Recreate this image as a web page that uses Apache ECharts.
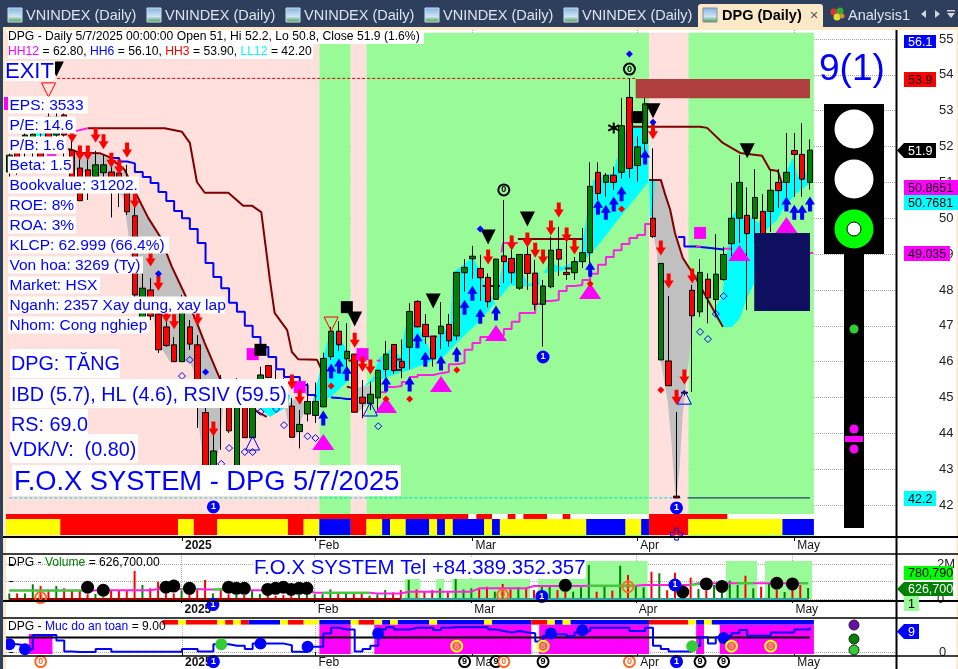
<!DOCTYPE html>
<html><head><meta charset="utf-8">
<style>html,body{margin:0;padding:0;background:#fff;overflow:hidden}#c{width:958px;height:669px}</style>
<script src="https://cdn.jsdelivr.net/npm/echarts@6/dist/echarts.min.js"></script>
</head><body><div id="c"></div>
<script>
// ---------- DATA ----------
const tickBars=[22,39,59,80,100];
const tickLabels=['2025','Feb','Mar','Apr','May'];
const priceTicks=[42,43,44,45,46,47,48,49,50,51,52,53,54,55];
// open, close, low, high
const ohlc=[[51.29,51.76,50.93,51.9],[51.9,51.49,51.21,52.18],[51.85,52.32,51.35,52.6],[51.9,52.35,51.62,52.74],[52.18,51.68,51.49,52.55],[52.82,52.24,51.9,53.08],[52.32,52.82,51.9,52.96],[52.88,52.32,51.62,53.08],[51.9,51.07,50.79,52.46],[51.4,50.49,50.48,51.76],
[51.35,51.07,50.51,51.76],[51.16,51.49,50.84,51.88],[51.27,51.49,50.79,51.76],[51.29,51.01,50.02,51.49],[51.26,50.9,50.31,51.35],[50.88,50.18,50.09,51.49],[50.07,47.86,47.8,50.37],[47.22,48.05,47.11,48.47],[48,47.27,47.16,48.33],[47.33,46.33,46.24,47.58],
[46.97,46.45,46.41,47.16],[46.47,46,45.99,46.69],[46,47.72,45.99,47.86],[46.97,46.49,46.33,47.16],[46.47,45.35,44.15,46.74],[44.58,42.98,42.9,44.93],[42.7,43.51,42.6,44.23],[45.35,44.79,43.54,45.63],[45.07,44.07,44.01,45.35],[42.98,45.35,42.9,45.54],
[45.15,43.88,43.87,45.35],[43.88,45.21,43.87,45.4],[44.93,45.63,44.71,45.86],[45.89,45.56,45.54,45.91],[45.35,44.93,44.88,45.77],[45.35,45.07,44.93,45.54],[44.76,43.89,43.88,44.99],[44.05,44.25,43.58,44.65],[44.54,44.89,44.33,45.4],[44.5,44.89,44.29,45.42],
[44.74,46.09,44.73,46.25],[46.14,46.85,46.05,46.97],[46.85,46.47,46.3,47.13],[46.08,46.29,45.58,47.07],[46.21,44.59,44.58,46.22],[45.01,44.84,44.42,45.49],[44.83,45.09,44.65,45.44],[44.99,45.76,44.65,45.77],[45.78,46.21,45.58,46.58],[46.48,45.75,45.66,46.49],
[46.01,45.83,45.54,46.62],[46.4,47.4,45.79,47.63],[47.68,46.97,46.96,47.72],[47.04,46.7,46.49,47.32],[46.71,46.08,45.86,46.72],[46.78,46.99,46.35,47.66],[47.04,46.58,46.42,47.33],[46.72,48.49,46.6,48.5],[48.48,48.63,47.95,48.86],[48.87,48.94,48.31,49.23],
[48.6,48.34,47.69,48.98],[48.35,47.67,47.51,48.46],[47.74,48.86,47.72,48.87],[48.95,48.79,48.19,50.51],[48.88,48.48,48.19,49.51],[48.05,48.99,48,49],[48.99,48.46,48,49.39],[48.47,47.6,47.44,48.84],[47.6,48.11,46.42,48.28],[48.09,49.11,48.05,49.49],
[49.13,48.86,48.39,49.76],[48.49,48.43,48.28,49.72],[48.48,48.79,48.28,48.92],[48.79,49.04,48.61,49.73],[49.04,50.89,48.75,51.56],[51.28,50.69,50.51,51.56],[51,51.2,50.6,51.26],[51.2,51,50.79,51.44],[51.28,52.58,51.11,53.35],[53.37,51.39,51.12,53.9],
[51.47,51.99,51.02,52.28],[52.09,53.19,51.82,53.35],[50,49.49,49.45,51.95],[46.05,48.74,46.04,48.75],[46.02,45.33,45.32,47.83],[42.25,42.2,42.2,44.6],[45.15,45.12,45.05,45.2],[47.99,47.28,45.16,48.14],[47.39,48.49,47.25,48.86],[48.3,47.78,47.07,48.46],
[47.73,48.44,47.27,49.56],[48.29,48.99,48.26,49.2],[49.29,50,48.95,50.98],[50,51,49.31,51.76],[50.08,49.57,47.44,50.86],[50,50.58,49.31,51.37],[50.19,49.29,48.39,50.67],[50.19,50.78,49.62,51.35],[51,50.77,50.29,51.37],[51,51.28,50.32,52.38],
[51.89,51.78,50.6,52.38],[51.78,51.09,50.6,52.65],[51,51.9,50.8,52.2]];
const volumes=[.32,.32,.32,.84,.74,.51,.74,.61,.51,.51,.27,.29,.1,.51,.51,.48,1.6,.8,.61,.99,.32,.32,.48,.29,.51,1.09,.32,.61,.27,.23,.23,.51,.29,.19,.19,.23,.19,.23,.27,.27,.27,.55,.32,.38,.38,.38,.19,.27,.51,.38,.51,1.09,.55,.42,.51,.61,.38,1.14,.55,.61,.61,.7,.42,.86,.55,.67,.61,.51,.8,.7,.51,.42,.42,.67,1.94,.42,.8,.48,1.9,1.37,.74,.67,1.56,1.47,.5,1.5,.57,1.22,.57,.48,.8,.36,1.05,.8,1.33,.61,.7,.9,.51,.4,.55,.8,.63];
const safety=[3.4,2.99,1.21,7.36,7.36,7.36,5.04,.26,0,0,0,1.35,1.35,.12,.12,.12,.12,.12,.12,.12,.12,.12,1.35,1.35,.26,.26,3.4,3.4,2.72,2.72,1.35,3.67,3.67,3.67,3.67,2.99,.12,0,2.31,2.31,8.04,10.5,9.82,9.82,.26,1.35,2.72,9.82,10.78,9.82,9.82,10.5,10.5,10.5,9.55,10.5,10.78,10.78,10.78,10.78,10.78,9.82,9.14,8.45,9.14,8.45,8.18,4.63,7.09,7.77,7.77,6.81,8.45,9.14,10.5,10.5,10.5,10.5,10.5,9.14,9.14,10.5,2.72,1.35,.26,.26,.26,2.72,6.4,3.67,6.4,7.09,8.18,9.55,7.09,7.09,7.09,8.45,8.45,8.45,9.82,9.82,10.78];
// indicator lines
const brownUpper=[[10,52.51],[19.8,52.51],[22,52.41],[23,52.1],[23.9,51.01],[24.9,50.71],[27.9,50.71],[29.8,50.35],[30.9,50.35],[32.1,50.17],[33.2,48.28],[33.8,47.36],[35.4,46.88],[36,46.27],[36.8,46.07],[39.2,46.05],[39.8,45.77]];
const brownLower=[[7.5,51.93],[9,51.83],[11.6,51.81],[12.6,51.72],[14.7,51.35],[16.4,50.57],[17.7,50.01],[19.2,49.49],[20.7,48.65],[22.4,47.86],[23.9,47.08],[24.9,46.52],[26.8,45.54],[31.6,44.6],[32.8,44.46]];
const brownPlunge=[[81.5,51.07],[83,51.07],[83.5,50.7],[84.2,50.23],[84.8,49.59],[85.8,48.89],[87.6,48.28],[89,47.72],[90.9,46.97]];
const brownTop=[[79.3,52.55],[88,52.55],[88.9,52.52],[90.9,52.1],[93.1,51.82],[95.9,51.74],[96.9,51.35],[97.9,51.32],[98.4,50.98]];
const brownBits=[[[43.2,46.03],[44.4,46.03]],[[43,45.3],[43.6,45.27]],[[48.7,46.06],[50,46.06]],[[48.9,45.77],[50,45.77]],[[54,46.7],[54.5,46.7]],[[60.3,48.11],[62.5,48.11]],[[64.8,49.42],[73,49.42]],[[70.8,48.6],[72,48.6]]];
const blueFall=[[13,51.68],[14,51.58],[15,51.53],[16,51.29],[17,51.15],[18,50.98],[19,50.73],[20,50.48],[21,50.2],[22,50],[23,49.7],[24,49.31],[25,48.75],[26,48.36],[27,48.05],[28,47.64],[29,47.39],[30,47],[31,46.69],[32,46.41],[33,46.13],[34,45.79],[35,45.57],[36,45.57],[37,45.35],[38,45.07],[39,45.01]];
const blueFlat=[[41,45],[42,44.99],[43,44.96],[44,44.96]];
const blueLate=[[85.2,49.48],[86,49.21],[87.4,49.18],[89,49.13],[91,49.13]];
const magentaRise=[[47,45.15],[48,45.29],[49,45.32],[50,45.43],[51,45.57],[52,45.63],[53,45.63],[54,45.68],[55,45.71],[56,45.93],[57,45.96],[58,46.33],[59,46.52],[60,46.69],[61,46.72],[62,46.74],[63,46.91],[64,47.11],[65,47.36],[66,47.36],[67,47.61],[68,47.69],[69,47.72],[70,47.97],[71,48.11],[72,48.14],[73,48.28],[74,48.45],[75,48.7],[76,48.92],[77,49.11],[78,49.28],[79,49.45],[80,49.53],[81,49.84],[82,49.84]];
const magentaBits=[[[8.4,52.43],[10,52.51]],[[39.6,45],[40.5,45]],[[44.4,46.03],[45.5,46.03]],[[46.8,46.03],[47.3,46.03]],[[53.3,46.7],[54,46.7]],[[62.7,49.05],[62.9,49.31],[64.8,49.31]],[[87.5,49.21],[88.1,49.21]],[[91,49.15],[92,49.15]],[[102,49.03],[102.4,49.03]],[[4.8,51.76],[6,51.76]]];
// filled bands
const grayA=[[7.5,51.93],[9,51.83],[11.6,51.81],[12.6,51.72],[14.7,51.35],[16.4,50.57],[17.7,50.01],[19.2,49.49],[20.7,48.65],[22.4,47.86],[23.9,47.08],[24.9,46.52],[26.8,45.54],[27.2,44.71],[26.8,43.62],[26.2,43.12],[24.7,43.12],[24.5,43.62],[23.9,44.65],[23.9,45.54],[23,45.99],[20.5,45.99],[19.5,46.33],[18.8,46.52],[18.3,47.36],[16,47.72],[15.6,48.56],[15.1,49.67],[14.5,50.59],[11.6,51.12],[8.4,51.35]];
const grayB=[[35.1,44.74],[35.5,44.29],[36,43.9],[36.5,43.9],[37.4,44.51],[37.9,44.74],[36.8,45.04]];
const grayC=[[44.3,45.27],[46.2,45.35],[46.2,44.93],[45,44.71],[44.3,44.57]];
const grayD=[[81.5,51.07],[83,51.07],[83.5,50.7],[84.2,50.23],[84.8,49.59],[85.8,48.89],[87.6,48.28],[87.2,47.36],[86.7,46.33],[85.8,44.57],[85.4,43.06],[85,42.2],[84.8,42.34],[84.4,43.62],[83.9,44.85],[82.9,46.13],[82.5,49.03],[82,49.59]];
const cyanA=[[38.6,44.85],[39.3,45.49],[40.5,46.55],[41.5,46.83],[42.8,46.41],[43.1,45.77],[43,45.43],[40.9,45.01]];
const cyanB=[[45.1,45.29],[46.3,45.54],[47.2,46.13],[47.9,46.19],[48.8,46.41],[49.8,46.13],[50.7,47.25],[51.9,47.08],[53.6,46.33],[55.3,46.97],[56.1,46.69],[56.5,48.47],[59.1,48.92],[60.2,48.36],[62.1,47.52],[61.9,47.64],[59.7,47.08],[58.3,46.8],[57,46.52],[55.3,46.13],[53.2,45.96],[51,45.77],[48.9,45.63],[46.3,45.43]];
const cyanC=[[62.1,47.86],[62.9,48.78],[64.4,48.78],[66.3,48.14],[67.4,48.5],[67.6,48.14],[65.1,48.08],[63.8,48.14],[62.5,47.78]];
const cyanD=[[68,48.47],[68.9,48.75],[70.4,48.64],[72.7,48.84],[73.6,50.15],[74.4,51.07],[76.9,51.26],[77.5,51.71],[78.8,52.66],[80.7,52.52],[81.4,52.18],[81.4,51.01],[77.8,50.03],[74,48.97],[71,48.56],[68.9,48.47]];
const cyanE=[[81.5,51.07],[82.3,51.07],[82,50.1],[81.6,50]];
const cyanF=[[89.9,47.52],[90.8,47.8],[91.4,48.92],[91.9,50.03],[92.7,50.23],[93.5,50.03],[94.7,50.03],[95.4,49.87],[96.6,50.31],[97.5,50.79],[98.5,51.01],[99.8,51.71],[100.5,51.15],[102.4,51.35],[102,50.98],[100.3,50.7],[98.5,50.23],[97.8,49.95],[96,49.59],[95,49.39],[94.9,48.19],[94,47.8],[93.1,47.22],[92.1,46.97],[90.9,46.97],[89.9,47.25]];
const cyanG=[[31.6,44.74],[33.2,44.46],[35.4,44.74],[35.8,45.07],[32,45.3]];
const cyanH=[[3,52.4],[6,52.4],[6,52.3],[3,52.3]];
// signals [bar, price]
const redArrows=[[8,52.32],[9,51.82],[10,51.82],[11,52.32],[12,52.13],[13,51.62],[14,51.43],[15,51.9],[16,50.48],[18,48.86],[19,48.19],[20,47.3],[21,47.11],[24,47.22],[26,44.12],[36,45.43],[37,45.01],[44,46.6],[45,45.93],[46,45.85],[61,48.92],[64,49.31],[66,49.39],[67,49.11],[68,48.92],[69,49.73],[70,50.23],[71,49.53],[72,49.2],[82,52.41],[83,49.17],[84,48.25],[85,45.01],[86,45.57],[87,48.39]];
const blueArrows=[[40,44.43],[41,45.74],[42,45.88],[43,45.68],[48,45.38],[51,45.38],[52,46.58],[53,46.07],[55,45.96],[57,46.21],[58,47.52],[59,47.91],[60,47.27],[62,47.36],[74,48.58],[75,50.31],[76,50.17],[77,50.4],[78,50.68],[81,51.71],[99,50.4],[100,50.17],[101,50.17],[102,50.4]];
const magentaTriangles=[[40,43.76],[48,44.79],[55,45.38],[62,46.8],[74,47.97],[93,49.03],[99,49.81]];
const magentaSquares=[[31,46.21],[37,45.29],[45,46.21],[88,49.59]];
const blackSquares=[[32,46.33],[43,47.52],[80,52.82]];
const blackTriangles=[[6,54.16],[44,47.19],[54,47.69],[61,49.48],[66,49.98],[82,53],[94,51.88]];
const redHollow=[[5,53.58],[41,47.05]];
const blueHollow=[[31,43.73],[46,44.68],[86,45.01]];
const redDots=[[41,45.32],[48,44.96],[51,44.96],[57,45.77],[74,48.17],[78,50.26],[83,45.21]];
const blueDots=[[19,48.45],[25,45.71],[60,49.7],[79,54.58],[82,52.68]];
const blueRings=[[22,45.6],[23,46.05],[27,43.15],[28,43.59],[30,43.48],[31,43.48],[32,44.6],[34,44.68],[35,44.23],[38,43.92],[39,43.87],[47,44.2],[88,46.83],[89,46.63],[90,47.33],[91,47.83]];
const zeroMarks=[[63,50.79],[79,54.16]];
const oneMarks=[[26,41.95],[68,46.13],[85,41.92]];
const starMark=[[77,52.52]];
const crossMark=[[85,41.19]];
const resistanceBox=[79.8,102,53.35,53.88];
const supportBox=[94.9,102,47.41,49.59];
const hh3Line=[[6.1,53.9],[79.8,53.9]];
const ll12Dash=[[0,42.2],[85.6,42.2]];
const ll12Solid=[[86.4,42.2],[102,42.2]];
// background state runs: [from, to, state] (0 pink, 1 green)
const regimeRuns=[[-0.42,39.5,0],[39.5,43.5,1],[43.5,45.5,0],[45.5,81.5,1],[81.5,86.5,0],[86.5,102.5,1]];
// strip runs: end bar and colour index (0 red, 1 yellow, 2 blue, 3 white)
const stripMainEnds=[6.5,21.5,23.5,26.5,35.5,37.5,39.5,43.5,45.5,47.5,48.5,50.5,53.5,54.5,55.5,56.5,60.5,61.5,62.5,73.5,78.5,80.5,81.5,86.5,98.5,102.5];
const stripMainColors=[1,0,1,0,1,0,1,2,0,1,2,1,2,1,2,1,2,1,2,1,2,1,2,0,1,2];
const stripTopEnds=[58.5,59.5,61.5,63.5,64.5,65.5,68.5,70.5,71.5,81.5,91.5,102.5];
const stripTopColors=[0,3,0,3,0,3,0,3,0,3,0,3];
const stripSafeEnds=[21.5,22.5,26.5,27.5,28.5,29.5,30.5,34.5,35.5,37.5,39.5,43.5,44.5,46.5,47.5,48.5,49.5,53.5,54.5,60.5,61.5,66.5,68.5,69.5,70.5,71.5,81.5,86.5,87.5,88.5,89.5,102.5];
const stripSafeColors=[0,1,0,1,0,1,0,2,1,0,1,2,1,0,1,2,1,2,1,2,1,2,0,1,2,1,2,0,1,2,1,2];
// volume pane
const volZones=[[50.5,52.5,1.14],[54.5,55.5,1.14],[56.5,66.5,1.14],[67.5,73.5,1.14],[73.5,81.5,2.17],[91.5,95.5,2.17],[96.5,102.5,2.17]];
const volAverage=[[0,.48],[10,.48],[13,.5],[18,.5],[19,.57],[24,.57],[25,.55],[30,.55],[31,.5],[38,.5],[39,.36],[46,.36],[47,.32],[50,.32],[51,.42],[59,.42],[60,.61],[66,.61],[67,.74],[73,.74],[74,.76],[80,.76],[81,.8],[87,.8],[88,.9],[102,.9]];
const volAverageGreen=[[[0,.48],[10,.48]],[[22,.57],[24,.57]],[[26,.55],[28,.55]],[[40,.36],[46,.36]],[[74,.76],[80,.76]],[[87,.8],[89,.9]],[[93,.9],[95,.9]],[[101,.9],[102,.9]]];
const volBlackDots=[[10,.67],[12,.5],[20,.67],[21,.74],[23,.61],[28,.67],[29,.61],[30,.61],[33,.55],[34,.61],[35,.67],[36,.55],[37,.61],[38,.61],[71,.78],[86,.4],[89,.86],[91,.72],[98,.9],[100,.86]];
const volOrange=[[4,.08],[63,.23],[79,.7]];
const volOnes=[[26,-.32],[68,.15],[85,.8]];
// safety pane
const safeZones=[[2.5,5.5,7.8],[39.5,43.5,11.9],[46.5,66.5,11.9],[67.5,81.5,11.9],[87.5,88.5,11.9],[90.5,102.5,11.9]];
const safeLevel=6.3;
const safeBlueDots=[[0,3.4],[2,1.21],[32,3.67],[38,2.31],[47,8.04],[69,8.04],[73,9.41],[91,6.13]];
const safeGreenDots=[[27,3.4],[87,2.58]];
const safeEights=[[57,2.58],[68,2.58],[92,2.58],[97,2.58]];
const safeNines=[[58,-4.1],[62,-4.1],[68,-4.1],[88,-4.1],[91,-4.1]];
const safeZeros=[[4,-4.1],[63,-4.1],[79,-4.1]];
const safeOnes=[[26,-4.1],[85,-4.1]];

// ---------- BUILD ----------
const F='"Liberation Sans", Arial, sans-serif';
const XMIN=-0.42,XMAX=112.96;
const PAL=['#ff0000','#ffff00','#0000ff','#ffffff','#ffe0dd','#98fb98','#af3f3f','#0f0f5f','#ff00ff'];
const rects=(g,data,z)=>({type:'custom',xAxisIndex:g,yAxisIndex:g,z,silent:true,data,encode:{x:[0,1],y:[2,3]},
  renderItem(p,api){const a=api.coord([api.value(0),api.value(2)]),b=api.coord([api.value(1),api.value(3)]);
    return {type:'rect',shape:{x:Math.min(a[0],b[0]),y:Math.min(a[1],b[1]),width:Math.abs(b[0]-a[0]),height:Math.abs(b[1]-a[1])},style:{fill:PAL[api.value(4)],stroke:null}};}});
const poly=(pts,fill,z)=>({type:'custom',xAxisIndex:0,yAxisIndex:0,z,silent:true,data:[[pts[0][0],pts[0][1]]],encode:{x:0,y:1},
  renderItem(p,api){return {type:'polygon',shape:{points:pts.map(q=>api.coord(q))},style:{fill}};}});
const line=(g,data,color,z,extra)=>Object.assign({type:'line',xAxisIndex:g,yAxisIndex:g,data,symbol:'none',silent:true,z,clip:false,lineStyle:{color,width:2}},extra||{});
const marks=(g,data,o)=>Object.assign({type:'scatter',xAxisIndex:g,yAxisIndex:g,data,silent:true,clip:false,z:12},o);
const runs=(ends,cols,y0,y1,start)=>{let s=start;return ends.map((e,k)=>{const r=[s,e,y0,y1,cols[k]];s=e;return r;});};
const DOWN='path://M3 0H7V7H10L5 15L0 7H3Z', UP='path://M5 0L10 8H7V15H3V8H0Z';
const ASTER='path://M5 0V10M0.7 2.5L9.3 7.5M0.7 7.5L9.3 2.5';
const CROSS='path://M3.5 0H6.5V3.5H10V6.5H6.5V10H3.5V6.5H0V3.5H3.5Z';
const ring=(g,data,stroke,fill,txt,tc,size)=>marks(g,data,{symbol:'circle',symbolSize:size||11,z:14,itemStyle:{color:fill,borderColor:stroke,borderWidth:2,opacity:1},
  label:{show:true,position:'inside',formatter:txt,color:tc,fontSize:9,fontWeight:'bold',fontFamily:F}});

const series=[
 rects(0,regimeRuns.map(r=>[r[0],r[1],41.11,55.17,r[2]?5:4]),1),
 poly(grayA,'#c0c0c0',2),poly(grayB,'#c0c0c0',2),poly(grayC,'#c0c0c0',2),poly(grayD,'#c0c0c0',2),
 ...[cyanA,cyanB,cyanC,cyanD,cyanE,cyanF,cyanG,cyanH].map(c=>poly(c,'#00ffff',2)),
 rects(0,[[resistanceBox[0],resistanceBox[1],resistanceBox[2],resistanceBox[3],6],[supportBox[0],supportBox[1],supportBox[2],supportBox[3],7]],7),
 line(0,hh3Line,'#e00000',3,{lineStyle:{color:'#e00000',width:1,type:[3,2]}}),
 line(0,ll12Dash,'#00e0e0',3,{lineStyle:{color:'#00d8d8',width:1,type:[3,2]}}),
 line(0,ll12Solid,'#0f0f5f',3,{lineStyle:{color:'#0f0f5f',width:1}}),
 line(0,blueFall,'#0000ff',4,{step:'end'}),line(0,blueFlat,'#0000ff',4),line(0,blueLate,'#0000ff',4,{step:'end'}),
 line(0,magentaRise,'#ff20e0',4,{step:'end'}),
 line(0,brownUpper,'#800000',4),line(0,brownLower,'#800000',4),line(0,brownPlunge,'#800000',4),line(0,brownTop,'#800000',4),
 ...brownBits.map(b=>line(0,b,'#800000',4)),
 ...magentaBits.map(b=>line(0,b,'#ff20e0',4)),
 {type:'candlestick',xAxisIndex:0,yAxisIndex:0,z:6,silent:true,barWidth:6,data:ohlc.map((r,i)=>[i,r[0],r[1],r[2],r[3]]),
  itemStyle:{color:'#008000',color0:'#ff0000',borderColor:'#000',borderColor0:'#000',borderColorDoji:'#000',borderWidth:1}},
 marks(0,magentaSquares,{symbol:'rect',symbolSize:12,z:11,itemStyle:{color:'#ff00ff',opacity:1}}),
 marks(0,blackSquares,{symbol:'rect',symbolSize:12,z:11,itemStyle:{color:'#000',opacity:1}}),
 marks(0,magentaTriangles,{symbol:'triangle',symbolSize:[22,16],itemStyle:{color:'#ff00ff',opacity:1}}),
 marks(0,blackTriangles,{symbol:'triangle',symbolRotate:180,symbolSize:[15,15],itemStyle:{color:'#000',opacity:1}}),
 marks(0,redHollow,{symbol:'triangle',symbolRotate:180,symbolSize:[14,14],itemStyle:{color:'rgba(0,0,0,0)',borderColor:'#ff0000',borderWidth:1,opacity:1}}),
 marks(0,blueHollow,{symbol:'triangle',symbolSize:[14,14],itemStyle:{color:'rgba(0,0,0,0)',borderColor:'#0000ff',borderWidth:1,opacity:1}}),
 marks(0,redArrows,{symbol:DOWN,symbolSize:[10,15],itemStyle:{color:'#ff0000',opacity:1}}),
 marks(0,blueArrows,{symbol:UP,symbolSize:[10,15],itemStyle:{color:'#0000ff',opacity:1}}),
 marks(0,redDots,{symbol:'diamond',symbolSize:7,itemStyle:{color:'#ff0000',opacity:1}}),
 marks(0,blueDots,{symbol:'diamond',symbolSize:7,itemStyle:{color:'#0000ff',opacity:1}}),
 marks(0,blueRings,{symbol:'diamond',symbolSize:7,itemStyle:{color:'rgba(0,0,0,0)',borderColor:'#0000ff',borderWidth:1,opacity:1}}),
 marks(0,starMark,{symbol:ASTER,symbolSize:11,itemStyle:{color:'rgba(0,0,0,0)',borderColor:'#000',borderWidth:2,opacity:1}}),
 marks(0,crossMark,{symbol:CROSS,symbolSize:12,itemStyle:{color:'rgba(0,0,0,0)',borderColor:'#0000ff',borderWidth:1,opacity:1}}),
 ring(0,zeroMarks,'#000','rgba(0,0,0,0)','0','#000'),
 ring(0,oneMarks,'#0000ff','#0000ff','1','#fff'),
 // strips
 rects(3,runs(stripMainEnds,stripMainColors,0,16,XMIN),8),
 rects(3,runs(stripTopEnds,stripTopColors,16,21,XMIN),8),
 // volume
 rects(1,volZones.map(r=>[r[0],r[1],0,r[2],5]),1),
 {type:'bar',xAxisIndex:1,yAxisIndex:1,z:3,silent:true,barWidth:2,data:volumes.map((v,i)=>({value:[i,v],itemStyle:{color:ohlc[i][1]<ohlc[i][0]?'#ff0000':'#008000'}}))},
 line(1,[[0,0],[50,0]],'#a00000',4),line(1,[[50,0],[102,0]],'#30a0a0',4),
 line(1,volAverage,'#ff20e0',5),
 ...volAverageGreen.map(b=>line(1,b,'#20e020',5)),
 marks(1,volBlackDots,{symbol:'circle',symbolSize:13,itemStyle:{color:'#000',opacity:1}}),
 ring(1,volOrange,'#ff6a2a','rgba(0,0,0,0)','0','#ff6a2a'),
 ring(1,volOnes,'#0000ff','#0000ff','1','#fff'),
 // safety
 rects(2,safeZones.map(r=>[r[0],r[1],-0.82,r[2],8]),1),
 rects(2,runs(stripSafeEnds,stripSafeColors,11.9,13.9,19.5),2),
 line(2,[[XMIN,safeLevel],[102,safeLevel]],'#000',3),
 line(2,safety.map((v,i)=>[i,v]),'#0000ff',4,{step:'end'}),
 marks(2,safeBlueDots,{symbol:'circle',symbolSize:12,itemStyle:{color:'#0000ff',opacity:1}}),
 marks(2,safeGreenDots,{symbol:'circle',symbolSize:12,itemStyle:{color:'#32cd32',opacity:1}}),
 ring(2,safeEights,'#ffff00','rgba(255,255,0,.25)','8','#e0c000'),
 ring(2,safeNines,'#000','#fff','9','#000'),
 ring(2,safeZeros,'#ff6a2a','#fff','0','#ff6a2a'),
 ring(2,safeOnes,'#0000ff','#0000ff','1','#fff'),
];

const grids=[{left:6,width:890,top:30,height:507},{left:6,width:890,top:554,height:47},{left:6,width:890,top:618,height:38},{left:6,width:890,top:514,height:21}];
const xAxis=[0,1,2,3].map(k=>k===3?{gridIndex:3,type:'value',min:XMIN,max:XMAX,show:false}:{gridIndex:k,type:'value',min:XMIN,max:XMAX,
  axisLine:{show:false},
  splitLine:{show:true,customValues:tickBars,lineStyle:{color:'#aaa',type:'dotted'}},
  axisTick:{show:true,customValues:tickBars,length:4,lineStyle:{color:'#000'}},
  axisLabel:{show:true,customValues:tickBars,margin:3,align:'left',padding:[0,0,0,3],fontFamily:F,fontSize:12,color:'#111',
    formatter:v=>{const s=tickLabels[tickBars.indexOf(v)];return s==='2025'?'{b|2025}':s;},rich:{b:{fontWeight:'bold',fontFamily:F,fontSize:12,color:'#111'}}}});
const yBase=(k,min,max,ticks,fmt)=>({gridIndex:k,type:'value',position:'right',min,max,
  axisLine:{show:false},splitLine:{show:true,customValues:ticks,lineStyle:{color:'#aaa',type:'dotted'}},
  axisTick:{show:true,customValues:ticks,length:4,lineStyle:{color:'#000'}},
  axisLabel:{show:true,customValues:ticks,margin:43,align:'left',fontFamily:F,fontSize:13,color:'#222',formatter:fmt}});
const yAxis=[yBase(0,41.11,55.25,priceTicks,v=>String(v)),yBase(1,-0.114,2.571,[0,1,2],v=>v===2?'2M':v===1?'':'0'),yBase(2,-0.82,14.75,[0],v=>'0'),{gridIndex:3,type:'value',min:0,max:21,show:false}];

// ---------- DECORATION ----------
const E=[];let Z=50;
const R=(x,y,w,h,fill,z)=>E.push({type:'rect',silent:true,z:z||Z,shape:{x,y,width:w,height:h},style:{fill}});
const C=(cx,cy,r,fill,stroke,z)=>E.push({type:'circle',silent:true,z:z||Z,shape:{cx,cy,r},style:{fill,stroke:stroke||null,lineWidth:stroke?1:0}});
const T=(s,x,y,font,fill,o)=>E.push({type:'text',silent:true,z:(o&&o.z)||Z+1,x,y:y+1,style:Object.assign({text:s,font,fill,verticalAlign:'middle',align:(o&&o.align)||'left'},(o&&o.style)||{})});
const L=(x1,y1,x2,y2,c,w)=>E.push({type:'line',silent:true,z:Z+2,shape:{x1,y1,x2,y2},style:{stroke:c,lineWidth:w}});
// window chrome
R(0,0,958,27,'#2e3f5e');R(0,27,958,3,'#fbe8c6');R(0,0,3,669,'#2e3f5e');R(3,27,3,642,'#fbe8c6');R(956.5,27,1.5,642,'#fbe8c6');
[8,147,286,425,564].forEach(x=>{
  E.push({type:'rect',silent:true,z:Z,shape:{x,y:8,width:14,height:14},style:{stroke:'#cde',lineWidth:1,fill:{type:'linear',x:0,y:0,x2:0,y2:1,colorStops:[{offset:0,color:'#7fb2e0'},{offset:.6,color:'#cfe4f5'},{offset:1,color:'#3c9a3c'}]}}});
  T('VNINDEX (Daily)',x+18,15,'14.5px '+F,'#dde3ee');
});
E.push({type:'rect',silent:true,z:Z,shape:{x:698,y:4,width:125,height:24,r:[3,3,0,0]},style:{fill:'#fbe8c6'}});
E.push({type:'rect',silent:true,z:Z,shape:{x:703,y:8,width:14,height:14},style:{stroke:'#88a',lineWidth:1,fill:{type:'linear',x:0,y:0,x2:0,y2:1,colorStops:[{offset:0,color:'#7fb2e0'},{offset:.6,color:'#cfe4f5'},{offset:1,color:'#3c9a3c'}]}}});
T('DPG (Daily)',722,15,'bold 14.5px '+F,'#000');T('✕',814,15,'11px "DejaVu Sans"','#555',{align:'center'});
C(834,12,3.5,'#d33');C(840,11,3.5,'#3a3');C(837,17,3.5,'#dd3');C(842,16,2.5,'#d83');
T('Analysis1',848,15,'14.5px '+F,'#dde3ee');
E.push({type:'polygon',silent:true,z:Z,shape:{points:[[926,10],[926,18],[921,14]]},style:{fill:'#cfd6e2'}});
E.push({type:'polygon',silent:true,z:Z,shape:{points:[[935,10],[935,18],[940,14]]},style:{fill:'#cfd6e2'}});
E.push({type:'polygon',silent:true,z:Z,shape:{points:[[947,13],[955,13],[951,18]]},style:{fill:'#cfd6e2'}});R(947,10,8,1.5,'#cfd6e2');
// headers
R(8,30,416,14,'#fff');R(8,44,305,15,'#fff');
T('DPG - Daily 5/7/2025 00:00:00 Open 51, Hi 52.2, Lo 50.8, Close 51.9 (1.6%)',8,36,'12.15px '+F,'#000');
const H='12.15px '+F;
T('{m|HH12}{k| = 62.80, }{b|HH6}{k| = 56.10, }{r|HH3}{k| = 53.90, }{c|LL12}{k| = 42.20}',8,51,H,'#000',{style:{rich:{m:{fill:'#ff00ff',font:H},k:{fill:'#000',font:H},b:{fill:'#0000ff',font:H},r:{fill:'#ff0000',font:H},c:{fill:'#00ffff',font:H}}}});
// left stat labels
R(5,61,50,20,'#fff');T('EXIT',5,71,'22px '+F,'#0000ff');
R(4,97,4,13,'#ff00ff');
[['EPS: 3533',88],['P/E: 14.6',76],['P/B: 1.6',66],['Beta: 1.5',73],['Bookvalue: 31202.',139],['ROE: 8%',76],['ROA: 3%',76],['KLCP: 62.999 (66.4%)',169],['Von hoa: 3269 (Ty)',143],['Market: HSX',100],['Nganh: 2357 Xay dung, xay lap',225],['Nhom: Cong nghiep',149]].forEach((r,k)=>{
  const yc=105+20*k;R(8,yc-8.5,r[1]-8,17,'#fff');T(r[0],9.5,yc,'15.5px '+F,'#0000ff');});
[['DPG: TĂNG',364,120,349,29],['IBD (5.7), HL (4.6), RSIV (59.5)',395,288,379,29],['RS: 69.0',425,88,409,25],['VDK/V:  (0.80)',450,138,434,29]].forEach(r=>{
  R(10,r[3],r[2]-10,r[4],'#fff');T(r[0],r[0].startsWith('VDK')?9.5:11,r[1],'19.8px '+F,'#0000ff');});
R(12,465,389,31,'#fff');T('F.O.X SYSTEM - DPG 5/7/2025',14,481,'27.3px '+F,'#0000ff');
// volume / safety titles
const G='12.1px '+F;
T('{k|DPG - }{g|Volume}{k| = 626,700.00}',8,562,G,'#000',{style:{rich:{k:{fill:'#000',font:G},g:{fill:'#008000',font:G}}}});
R(253,557,333,21,'#fff');T('F.O.X SYSTEM Tel +84.389.352.357',254,567,'20.4px '+F,'#0000ff');
T('{k|DPG - }{g|Muc do an toan}{k| = 9.00}',8,626,G,'#000',{style:{rich:{k:{fill:'#000',font:G},g:{fill:'#0000ff',font:G}}}});
// frame lines
[537,554,601,618,656].forEach(y=>L(3,y,958,y,'#000',y===537||y===601?2:1.5));
L(896.5,30,896.5,669,'#000',2);
// right panel
T('9(1)',819,69,'37px '+F,'#0000ff');
R(824,104,60,150,'#000');R(844,254,20,274,'#000');
C(854,129,19.5,'#fff');C(854,179,19.5,'#fff');C(854,229,19.5,'#00ff00');C(854,229,7,'#fff','#000',Z+1);
C(854,329,4.5,'#32cd32');C(854,429,4.5,'#ff00ff');R(845,436,18,6,'#ff00ff');C(854,449,4.5,'#ff00ff');
C(854,625,5,'#6a0dad','#222');C(854,639,5,'#008000','#222');C(854,650,5,'#32cd32','#222');
const tag=(x,y,w,h,bg,fg,s,arrow)=>{
  if(arrow)E.push({type:'polygon',silent:true,z:Z+2,shape:{points:[[897,y+h/2],[904,y],[x+w,y],[x+w,y+h],[904,y+h]]},style:{fill:bg}});
  else E.push({type:'rect',silent:true,z:Z+2,shape:{x,y,width:w,height:h},style:{fill:bg}});
  E.push({type:'text',silent:true,z:Z+3,x:x+4,y:y+h/2+1,style:{text:s,font:'12.5px '+F,fill:fg,verticalAlign:'middle',align:'left'}});};
tag(904,35,32,13,'#0000ff','#fff','56.1');
tag(904,72,32,15,'#ff0000','#000','53.9');
tag(904,143,32,15,'#000','#fff','51.9',true);
tag(904,180,54,15,'#ff00ff','#000','50.8651');
tag(904,195,54,15,'#00ffff','#000','50.7681');
tag(904,246,46,15,'#ff00ff','#000','49.035');
tag(904,491,32,15,'#00ffff','#000','42.2');
tag(904,566,49,14,'#00ff00','#000','780,790');
tag(904,582,49,14,'#008000','#fff','626,700',true);
tag(904,596,15,15,'#98fb98','#000','1');
tag(904,624,15,15,'#0000ff','#fff','9',true);

const chart=echarts.init(document.getElementById('c'),null,{renderer:'canvas'});
chart.setOption({animation:false,backgroundColor:'#fff',tooltip:{show:false},legend:{show:false},grid:grids,xAxis,yAxis,series,graphic:{elements:E}});
</script></body></html>
